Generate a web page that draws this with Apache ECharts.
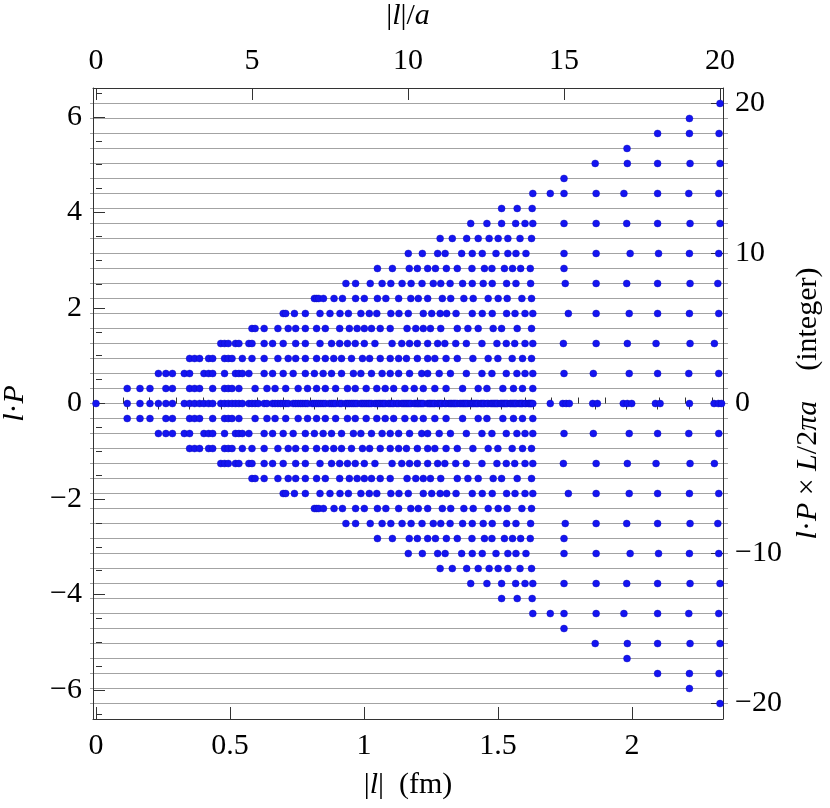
<!DOCTYPE html>
<html>
<head>
<meta charset="utf-8">
<script src="https://cdn.jsdelivr.net/npm/echarts@6/dist/echarts.min.js"></script>
<style>
  html, body { margin: 0; padding: 0; background: #fff; }
  #chart { width: 830px; height: 808px; }
</style>
</head>
<body>
<div id="chart"></div>
<script>
// dot positions per row, in units of |l|/a ; row k and row -k are drawn from the same list
var row0 = [0, 1, 1.41, 1.73, 2, 2.24, 2.45, 2.83, 3, 3.16, 3.32, 3.46, 3.61, 3.74, 4, 4.12, 4.24, 4.36, 4.47, 4.58, 4.69, 4.9,
  5, 5.1, 5.2, 5.39, 5.48, 5.66, 5.74, 5.83, 5.92, 6, 6.08, 6.16, 6.32, 6.4, 6.48, 6.56, 6.63, 6.71, 6.78, 6.93,
  7, 7.07, 7.14, 7.21, 7.28, 7.35, 7.48, 7.55, 7.62, 7.68, 7.81, 7.87, 8, 8.06, 8.12, 8.19, 8.25, 8.31, 8.37, 8.49,
  8.54, 8.6, 8.66, 8.72, 8.77, 8.83, 8.94, 9, 9.06, 9.11, 9.17, 9.22, 9.27, 9.38, 9.43, 9.49, 9.54, 9.64, 9.7, 9.8,
  9.85, 9.9, 9.95, 10, 10.05, 10.1, 10.2, 10.25, 10.3, 10.34, 10.39, 10.44, 10.49, 10.63, 10.68, 10.72, 10.77, 10.82,
  10.86, 10.95, 11, 11.05, 11.09, 11.18, 11.22, 11.31, 11.36, 11.4, 11.45, 11.49, 11.53, 11.58, 11.66, 11.7, 11.75,
  11.79, 11.83, 11.87, 11.92, 12, 12.04, 12.08, 12.12, 12.17, 12.21, 12.25, 12.33, 12.37, 12.41, 12.45, 12.53, 12.57,
  12.65, 12.69, 12.73, 12.77, 12.81, 12.85, 12.88, 12.96, 13, 13.04, 13.08, 13.11, 13.15, 13.19, 13.27, 13.3, 13.34,
  13.38, 13.42, 13.45, 13.49, 13.56, 13.6, 13.64, 13.67, 13.75, 13.78, 13.86, 13.89, 13.93, 13.96, 14,
  14.56, 14.96, 15.07, 15.17, 15.92, 16.07, 16.9, 17.03, 17.17, 17.93, 18.08, 19.02, 19.81, 19.95, 20.05];
var row1 = [1, 1.41, 1.73, 2.24, 2.45, 3, 3.16, 3.32, 3.74, 4.12, 4.24, 4.36, 4.58, 5.1, 5.48, 5.74, 6.08, 6.48, 6.78,
  7.07, 7.35, 7.68, 8.06, 8.31, 8.66, 9, 9.27, 9.54, 9.9, 10.2, 10.49, 10.86, 11.22, 11.75, 12.25, 12.53, 13.04,
  13.38, 13.67, 14];
var row2 = [2, 2.24, 2.45, 2.83, 3, 3.46, 3.61, 3.74, 4.12, 4.47, 4.58, 4.69, 4.9, 5.39, 5.66, 6, 6.32, 6.71, 7,
  7.28, 7.55, 7.87, 8.25, 8.49, 8.83, 9.17, 9.43, 9.7, 10.05, 10.44, 10.63, 11, 11.36, 11.87, 12.37, 12.69, 13.15,
  13.49, 13.75, 14, 15, 15.94, 17.09, 18, 19, 19.96];
var row3 = [3, 3.16, 3.32, 3.61, 3.74, 4.12, 4.24, 4.36, 4.69, 5, 5.39, 5.83, 6.16, 6.4, 6.71, 7.07, 7.35, 7.62,
  7.87, 8.19, 8.54, 8.77, 9.11, 9.43, 9.7, 9.95, 10.3, 10.63, 10.86, 11.22, 11.58, 12.08, 12.57, 12.88, 13.34,
  13.67, 13.96];
var row4 = [4, 4.12, 4.24, 4.47, 4.58, 4.9, 5, 5.39, 5.66, 6, 6.4, 6.71, 7.18, 7.55, 7.81, 8.06, 8.31, 8.6, 8.94,
  9.49, 9.8, 10.05, 10.3, 10.63, 10.95, 11.18, 11.53, 11.87, 12.37, 12.85, 13.15, 13.42, 13.75, 14,
  14.98, 16.03, 17.03, 17.95, 19.04, 19.82];
var row5 = [5, 5.1, 5.39, 5.83, 6.16, 6.4, 6.71, 7.07, 7.35, 7.81, 8.12, 8.37, 8.6, 8.83, 9.11, 9.43, 9.97, 10.25,
  10.49, 10.72, 11.05, 11.58, 11.92, 12.25, 12.73, 13, 13.5, 13.96];
var row6 = [6, 6.08, 6.36, 6.71, 7.18, 7.5, 7.82, 8.09, 8.49, 8.76, 9, 9.45, 9.71, 10.01, 10.49, 10.76, 11.03, 11.24,
  11.54, 12.06, 12.38, 12.7, 13.16, 13.43, 13.75, 14, 15.14, 16.03, 17.09, 18, 19.02, 19.96];
var row7 = [7, 7.07, 7.14, 7.29, 7.63, 7.9, 8.32, 8.6, 9.02, 9.29, 9.7, 10.09, 10.33, 10.63, 11.1, 11.37, 11.79,
  12.09, 12.57, 12.89, 13.18, 13.65, 13.96];
var row8 = [8.01, 8.32, 8.79, 9.17, 9.45, 9.81, 10.1, 10.45, 10.81, 11.05, 11.35, 11.75, 12.06, 12.41, 12.7, 13.16,
  13.46, 13.93, 15.04, 16.03, 17.01, 18, 19.04, 19.93];
var row9 = [9.02, 9.5, 10.04, 10.3, 10.63, 10.88, 11.23, 11.58, 12.05, 12.45, 12.69, 13.09, 13.35, 13.61, 13.92, 15];
var row10 = [10.01, 10.46, 10.95, 11.19, 11.72, 12.06, 12.38, 12.82, 13.2, 13.46, 13.78,
  15, 16.03, 17.12, 18.03, 19.02, 19.96];
var row11 = [11.03, 11.42, 11.88, 12.25, 12.6, 12.89, 13.2, 13.59, 13.96];
var row12 = [12.01, 12.53, 13, 13.45, 13.75, 14, 15, 16.03, 17.01, 18, 19.04, 20];
var row13 = [13, 13.5, 13.98];
var row14 = [14, 14.56, 15, 16.03, 16.92, 18, 19, 19.96];
var row15 = [15];
var row16 = [16, 17.03, 18, 19.04, 20];
var row17 = [17.02];
var row18 = [18, 19.02, 19.97];
var row19 = [19.02];
var row20 = [20];

var rowLists = [row0, row1, row2, row3, row4, row5, row6, row7, row8, row9, row10,
  row11, row12, row13, row14, row15, row16, row17, row18, row19, row20];
var kValues = [-20, -19, -18, -17, -16, -15, -14, -13, -12, -11, -10, -9, -8, -7, -6, -5, -4, -3, -2, -1,
  0, 1, 2, 3, 4, 5, 6, 7, 8, 9, 10, 11, 12, 13, 14, 15, 16, 17, 18, 19, 20];

// tick labels
var fmLabels = [0, 0.5, 1, 1.5, 2];
var fmMinor = [0.1, 0.2, 0.3, 0.4, 0.6, 0.7, 0.8, 0.9, 1.1, 1.2, 1.3, 1.4, 1.6, 1.7, 1.8, 1.9, 2.1, 2.2, 2.3];
var laLabels = [0, 5, 10, 15, 20];
var laMinor = [1, 2, 3, 4, 6, 7, 8, 9, 11, 12, 13, 14, 16, 17, 18, 19];
var lpLabels = [-6, -4, -2, 0, 2, 4, 6];
var lpMinor = [-6.5, -5.5, -5, -4.5, -3.5, -3, -2.5, -1.5, -1, -0.5, 0.5, 1, 1.5, 2.5, 3, 3.5, 4.5, 5, 5.5, 6.5];
var intLabels = [-20, -10, 0, 10, 20];

var FONT = 'Liberation Serif';
var INK = '#333';

var pts = [];
kValues.forEach(function (k) {
  rowLists[Math.abs(k)].forEach(function (x) { pts.push([x, k]); });
});

function minusSign(v) { return String(v).replace('-', '\u2212'); }

function tickAxis(o) {
  return Object.assign({
    type: 'value',
    gridIndex: 0,
    splitLine: { show: false },
    axisLine: { show: false, lineStyle: { color: INK, width: 1 } },
    axisTick: { show: true, inside: true, length: 12, lineStyle: { color: INK, width: 1 } },
    axisLabel: { show: false, fontFamily: FONT, fontSize: 30, color: '#000' }
  }, o);
}

function labelStyle(vals, margin) {
  return { show: true, customValues: vals, margin: margin, formatter: minusSign,
    fontFamily: FONT, fontSize: 30, color: '#000' };
}

var nameStyle = {
  fontFamily: FONT, fontSize: 30, color: '#000',
  rich: { i: { fontFamily: FONT, fontSize: 30, fontStyle: 'italic', color: '#000' } }
};

var chart = echarts.init(document.getElementById('chart'));
var option = {
  animation: false,
  backgroundColor: '#fff',
  grid: [
    { left: 93, top: 88, width: 630, height: 631, containLabel: false, outerBoundsMode: 'none' },
    { left: 90, top: 103.7, width: 638, height: 600, containLabel: false, outerBoundsMode: 'none' }
  ],
  xAxis: [
    tickAxis({ position: 'bottom', min: -0.0112, max: 2.3396,
      axisLine: { show: true, onZero: false, lineStyle: { color: INK, width: 1 } },
      axisTick: { show: true, inside: true, length: 12, customValues: fmLabels, lineStyle: { color: INK } },
      axisLabel: labelStyle(fmLabels, 12),
      name: '|{i|l}|  (fm)', nameLocation: 'middle', nameGap: 51, nameTextStyle: nameStyle }),
    tickAxis({ position: 'bottom', min: -0.0112, max: 2.3396,
      axisTick: { show: true, inside: true, length: 6, customValues: fmMinor, lineStyle: { color: INK } } }),
    tickAxis({ position: 'top', min: -0.096, max: 20.096,
      axisLine: { show: true, onZero: false, lineStyle: { color: INK, width: 1 } },
      axisTick: { show: true, inside: true, length: 12, customValues: laLabels, lineStyle: { color: INK } },
      axisLabel: labelStyle(laLabels, 12),
      name: '|{i|l}|/{i|a}', nameLocation: 'middle', nameGap: 57, nameTextStyle: nameStyle }),
    tickAxis({ position: 'top', min: -0.096, max: 20.096,
      axisTick: { show: true, inside: true, length: 6, customValues: laMinor, lineStyle: { color: INK } } }),
    { type: 'value', gridIndex: 1, min: 0, max: 1, show: false }
  ],
  yAxis: [
    tickAxis({ position: 'left', min: -6.605, max: 6.605,
      axisLine: { show: true, onZero: false, lineStyle: { color: INK, width: 1 } },
      axisTick: { show: true, inside: true, length: 12, customValues: lpLabels, lineStyle: { color: INK } },
      axisLabel: labelStyle(lpLabels, 11),
      name: '{i|l}·{i|P}', nameLocation: 'middle', nameRotate: 90, nameGap: 63, nameTextStyle: nameStyle }),
    tickAxis({ position: 'left', min: -6.605, max: 6.605,
      axisTick: { show: true, inside: true, length: 6, customValues: lpMinor, lineStyle: { color: INK } } }),
    tickAxis({ position: 'right', min: -21.03, max: 21.03,
      axisLine: { show: true, onZero: false, lineStyle: { color: INK, width: 1 } },
      axisTick: { show: true, inside: true, length: 12, customValues: intLabels, lineStyle: { color: INK } },
      axisLabel: labelStyle(intLabels, 12),
      name: '{i|l}·{i|P} × {i|L}/2{i|πa}    (integer)', nameLocation: 'middle', nameRotate: 90, nameGap: 67,
      nameTextStyle: nameStyle }),
    // horizontal grid lines, one per integer, running a little past the frame
    { type: 'value', gridIndex: 1, min: -20, max: 20, interval: 1,
      axisLine: { show: false }, axisTick: { show: false }, axisLabel: { show: false },
      splitLine: { show: true, lineStyle: { color: '#a3a3a3', width: 1.2 } } }
  ],
  series: [{
    type: 'scatter',
    xAxisIndex: 2,
    yAxisIndex: 2,
    data: pts,
    symbol: 'circle',
    symbolSize: 7,
    clip: false,
    itemStyle: { color: '#1414f0', opacity: 1, borderColor: '#0a0ab8', borderWidth: 0.4 },
    z: 5
  }]
};
chart.setOption(option);
</script>
</body>
</html>
